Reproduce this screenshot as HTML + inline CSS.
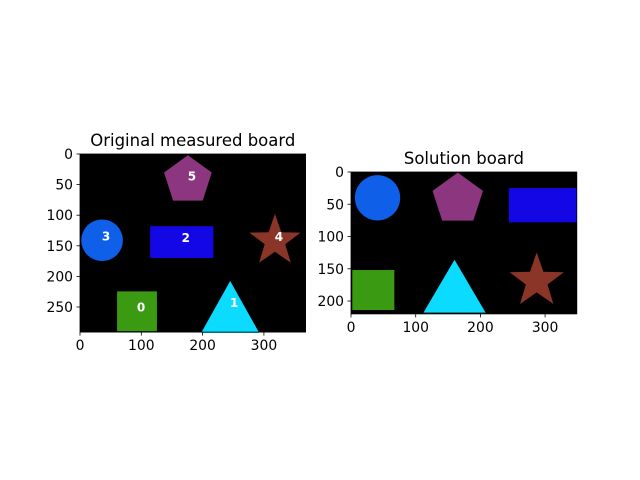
<!DOCTYPE html>
<html><head><meta charset="utf-8"><style>
body{margin:0;background:#fff;}
svg{display:block;font-family:"DejaVu Sans","Liberation Sans",sans-serif;}
</style></head><body>
<svg id="chart" width="640" height="480" viewBox="0 0 640 480"></svg>
<script>
// Original board shapes (data coordinates)
const shapeKinds = ['square','triangle','rect','circle','star','pentagon'];
const shapeColors = ['#3a9a12','#0bdcff','#1308e5','#0f5fe8','#8b3528','#8b367f'];
const origCenterX = [93, 245, 166, 36, 318, 176];
const origCenterY = [257, 250, 144, 141, 142, 43];
const origSizeW = [65, 95, 103, 34, 44, 41];
const origSizeH = [65, 85, 52, 34, 44, 41];
const origLabels = ['0','1','2','3','4','5'];
// Solution board shapes
const solCenterX = [34.5, 160, 296.5, 41, 287, 165];
const solCenterY = [183, 177, 51.5, 40, 169, 42];
const solSizeW = [65, 96, 105, 35, 44, 41];
const solSizeH = [62, 82, 53, 35, 44, 41];
const xTicksOrig = [0,100,200,300];
const yTicksOrig = [0,50,100,150,200,250];
const xTicksSol = [0,100,200,300];
const yTicksSol = [0,50,100,150,200];

const NS='http://www.w3.org/2000/svg';
const svg=document.getElementById('chart');
function mk(tag,attrs,parent){const e=document.createElementNS(NS,tag);for(const k in attrs)e.setAttribute(k,attrs[k]);(parent||svg).appendChild(e);return e;}

function drawAxes(cfg){
  const g=mk('g',{});
  
  
  const sx=v=>cfg.x0+v*cfg.kx, sy=v=>cfg.y0+v*cfg.ky;
  const bg=mk('rect',{x:cfg.x0,y:cfg.y0,width:cfg.xmax*cfg.kx,height:cfg.ymax*cfg.ky,fill:'#000'},g);
  
  
  for(let i=0;i<cfg.kinds.length;i++){
    const cx=sx(cfg.cx[i]), cy=sy(cfg.cy[i]), w=cfg.w[i]*cfg.kx, h=cfg.h[i]*cfg.ky, col=cfg.colors[i], kind=cfg.kinds[i];
    let el;
    if(kind==='square'||kind==='rect'){el=mk('rect',{x:cx-w/2,y:cy-h/2,width:w,height:h,fill:col},g);}
    else if(kind==='circle'){el=mk('circle',{cx:cx,cy:cy,r:w,fill:col},g);}
    else if(kind==='triangle'){el=mk('polygon',{points:`${cx},${cy-h/2} ${cx+w/2},${cy+h/2} ${cx-w/2},${cy+h/2}`,fill:col},g);}
    else if(kind==='pentagon'||kind==='star'){
      const n=kind==='star'?10:5, pts=[];
      for(let k=0;k<n;k++){const a=-Math.PI/2+k*2*Math.PI/n; const r=(kind==='star'&&k%2)?w*0.4:w; pts.push((cx+r*Math.cos(a)).toFixed(1)+','+(cy+r*Math.sin(a)).toFixed(1));}
      el=mk('polygon',{points:pts.join(' '),fill:col},g);
    }
    
    
    if(cfg.labels){
      const t=mk('text',{x:cx+cfg.lblDx,y:cy,fill:'#fff','font-size':'12','font-weight':'bold','text-anchor':'middle'},g);
      t.textContent=cfg.labels[i];
      
      
    }
  }
  const frame=mk('rect',{x:cfg.x0,y:cfg.y0,width:cfg.xmax*cfg.kx,height:cfg.ymax*cfg.ky,fill:'none',stroke:'#000','stroke-width':0.8},g);
  
  
  const yb=cfg.y0+cfg.ymax*cfg.ky;
  cfg.xt.forEach(v=>{
    const x=sx(v);
    mk('line',{x1:x,y1:yb,x2:x,y2:yb+3.5,stroke:'#000','stroke-width':0.8},g);
    const t=mk('text',{x:x,y:yb+18,'font-size':'13.9','text-anchor':'middle',fill:'#000'},g);
    t.textContent=v;
    
    
  });
  cfg.yt.forEach(v=>{
    const y=sy(v);
    mk('line',{x1:cfg.x0,y1:y,x2:cfg.x0-3.5,y2:y,stroke:'#000','stroke-width':0.8},g);
    const t=mk('text',{x:cfg.x0-7,y:y+5,'font-size':'13.9','text-anchor':'end',fill:'#000'},g);
    t.textContent=v;
    
    
  });
  const tt=mk('text',{x:cfg.x0+cfg.xmax*cfg.kx/2,y:cfg.y0-8,'font-size':'16.5','text-anchor':'middle',fill:'#000'},g);
  tt.textContent=cfg.title;
  
  
}

drawAxes({name:'original-board',x0:80,y0:154,kx:0.613,ky:0.612,xmax:368,ymax:291,
  kinds:shapeKinds,colors:shapeColors,cx:origCenterX,cy:origCenterY,w:origSizeW,h:origSizeH,
  labels:origLabels,lblDx:4,xt:xTicksOrig,yt:yTicksOrig,title:'Original measured board'});
drawAxes({name:'solution-board',x0:351,y0:172,kx:0.647,ky:0.645,xmax:349,ymax:220,
  kinds:shapeKinds,colors:shapeColors,cx:solCenterX,cy:solCenterY,w:solSizeW,h:solSizeH,
  labels:null,lblDx:0,xt:xTicksSol,yt:yTicksSol,title:'Solution board'});
</script>
</body></html>
